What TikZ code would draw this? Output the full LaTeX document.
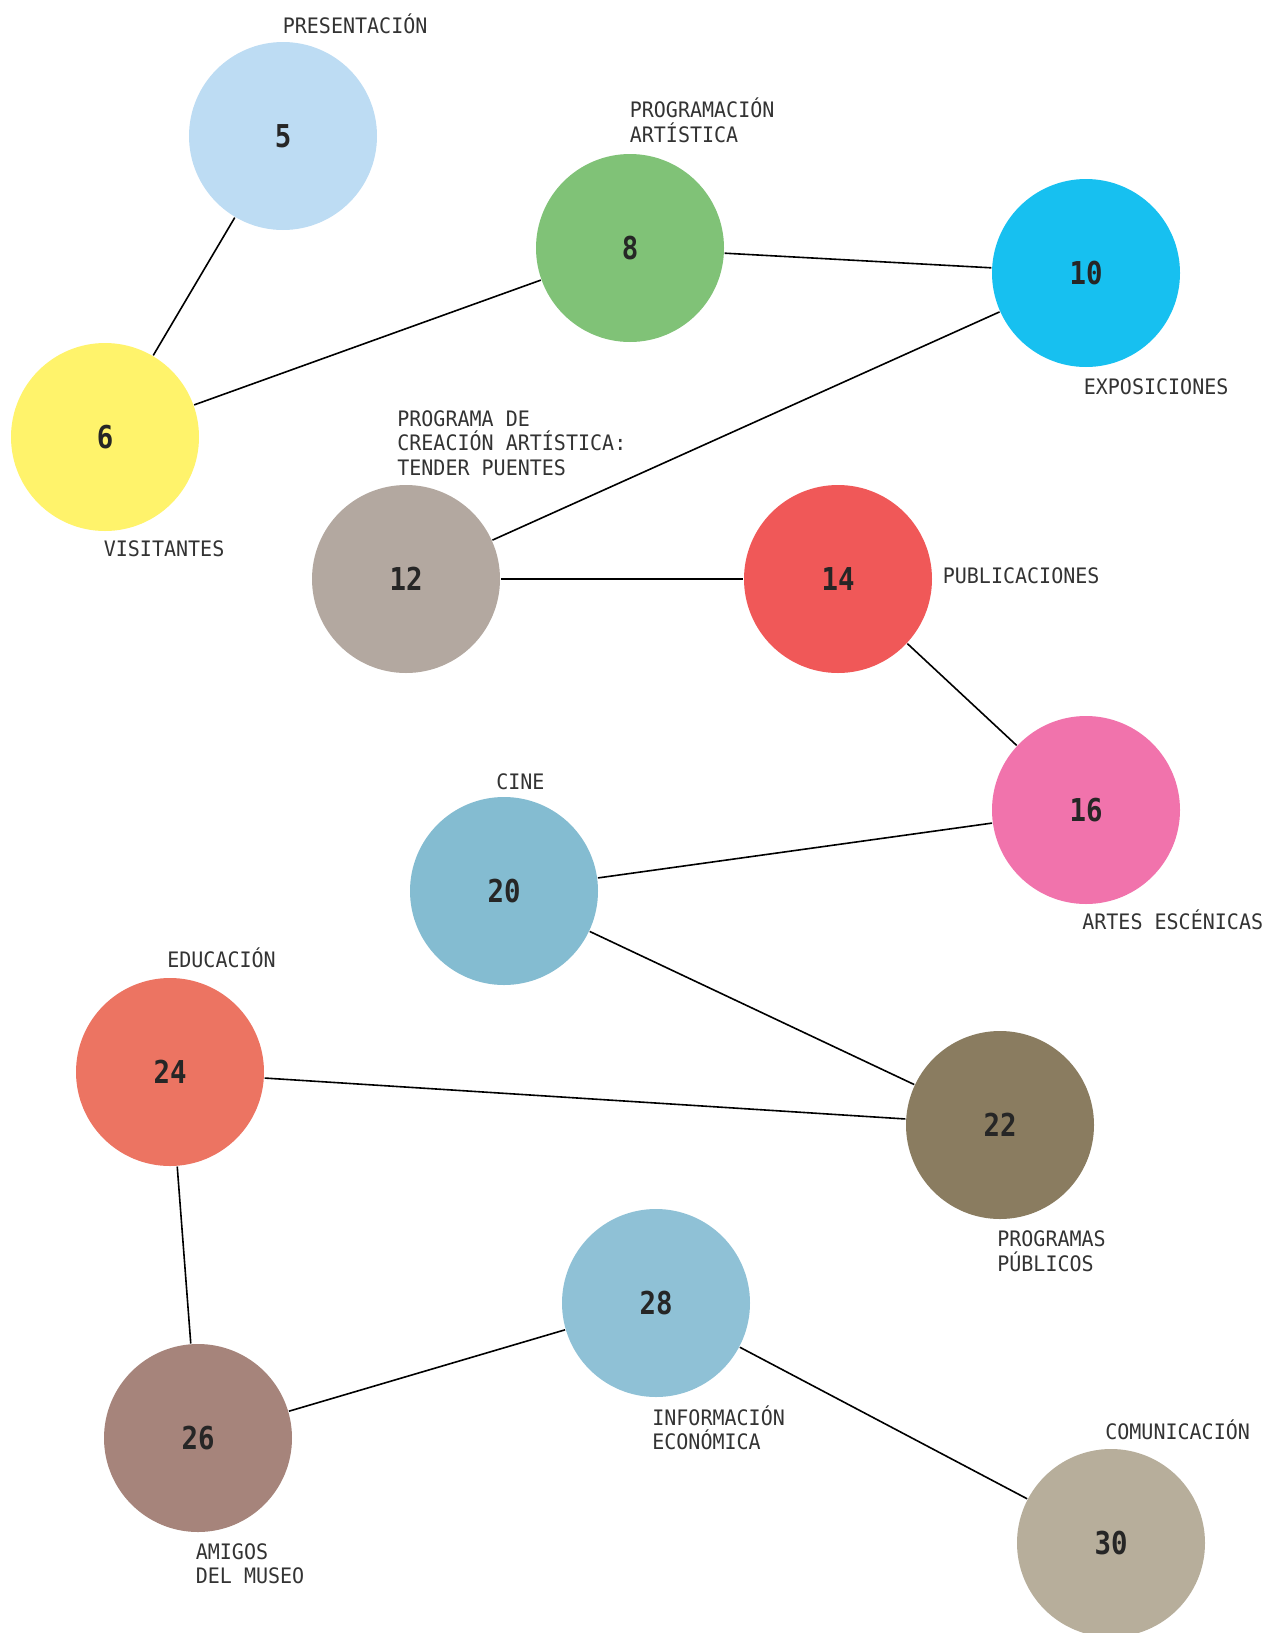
\documentclass[tikz,border=0pt]{standalone}
\usepackage{fontspec}
\newfontfamily\labfont[FakeStretch=0.94]{DejaVu Sans Mono}
\newfontfamily\numfont[FakeStretch=0.87]{DejaVu Sans Mono}
\definecolor{cpres}{HTML}{BDDCF3}
\definecolor{cvis}{HTML}{FFF36B}
\definecolor{cprog}{HTML}{80C277}
\definecolor{cexpo}{HTML}{17C0F0}
\definecolor{ccrea}{HTML}{B3A8A0}
\definecolor{cpubl}{HTML}{F05858}
\definecolor{carte}{HTML}{F173AC}
\definecolor{ccine}{HTML}{84BCD1}
\definecolor{cprpu}{HTML}{8A7C60}
\definecolor{cedu}{HTML}{EC7462}
\definecolor{camig}{HTML}{A6847B}
\definecolor{cinfo}{HTML}{8FC1D6}
\definecolor{ccomu}{HTML}{B7AE9B}

\begin{document}
\begin{tikzpicture}[x=1pt,y=-1pt,line width=1.6pt,
  page/.style={circle,minimum size=188pt,inner sep=0pt,fill=#1,
    font=\numfont\bfseries\fontsize{31.5}{31.5}\selectfont,text=black!85},
  tag/.style={anchor=base west,align=left,inner sep=0pt,
    font=\labfont\fontsize{21.3}{24.5}\selectfont,text=black!80}]
\useasboundingbox (0,0) rectangle (1266,1633);
\node[page=cpres] (p5) at (283,136) {5};
\node[page=cvis] (p6) at (105,437) {6};
\node[page=cprog] (p8) at (630,248) {8};
\node[page=cexpo] (p10) at (1086,273) {10};
\node[page=ccrea] (p12) at (406,579) {12};
\node[page=cpubl] (p14) at (838,579) {14};
\node[page=carte] (p16) at (1086,810) {16};
\node[page=ccine] (p20) at (504,891) {20};
\node[page=cprpu] (p22) at (1000,1125) {22};
\node[page=cedu] (p24) at (170,1072) {24};
\node[page=camig] (p26) at (198,1438) {26};
\node[page=cinfo] (p28) at (656,1303) {28};
\node[page=ccomu] (p30) at (1111,1543) {30};
\draw (p5) -- (p6);
\draw (p6) -- (p8);
\draw (p8) -- (p10);
\draw (p10) -- (p12);
\draw (p12) -- (p14);
\draw (p14) -- (p16);
\draw (p16) -- (p20);
\draw (p20) -- (p22);
\draw (p22) -- (p24);
\draw (p24) -- (p26);
\draw (p26) -- (p28);
\draw (p28) -- (p30);
\node[tag] (t5) at (282,33) {PRESENTACIÓN};
\node[tag] (t8) at (629,142) {PROGRAMACIÓN\\ARTÍSTICA};
\node[tag] (t10) at (1083,394) {EXPOSICIONES};
\node[tag] (t6) at (103,556.5) {VISITANTES};
\node[tag] (t12) at (396.5,475) {PROGRAMA DE\\CREACIÓN ARTÍSTICA:\\TENDER PUENTES};
\node[tag] (t14) at (942,583.5) {PUBLICACIONES};
\node[tag] (t20) at (495.5,789.5) {CINE};
\node[tag] (t16) at (1081.5,929) {ARTES ESCÉNICAS};
\node[tag] (t24) at (166.5,967.5) {EDUCACIÓN};
\node[tag] (t22) at (996.5,1271) {PROGRAMAS\\PÚBLICOS};
\node[tag] (t28) at (651.5,1449.5) {INFORMACIÓN\\ECONÓMICA};
\node[tag] (t26) at (195,1583.5) {AMIGOS\\DEL MUSEO};
\node[tag] (t30) at (1104.5,1439) {COMUNICACIÓN};
\end{tikzpicture}
\end{document}
